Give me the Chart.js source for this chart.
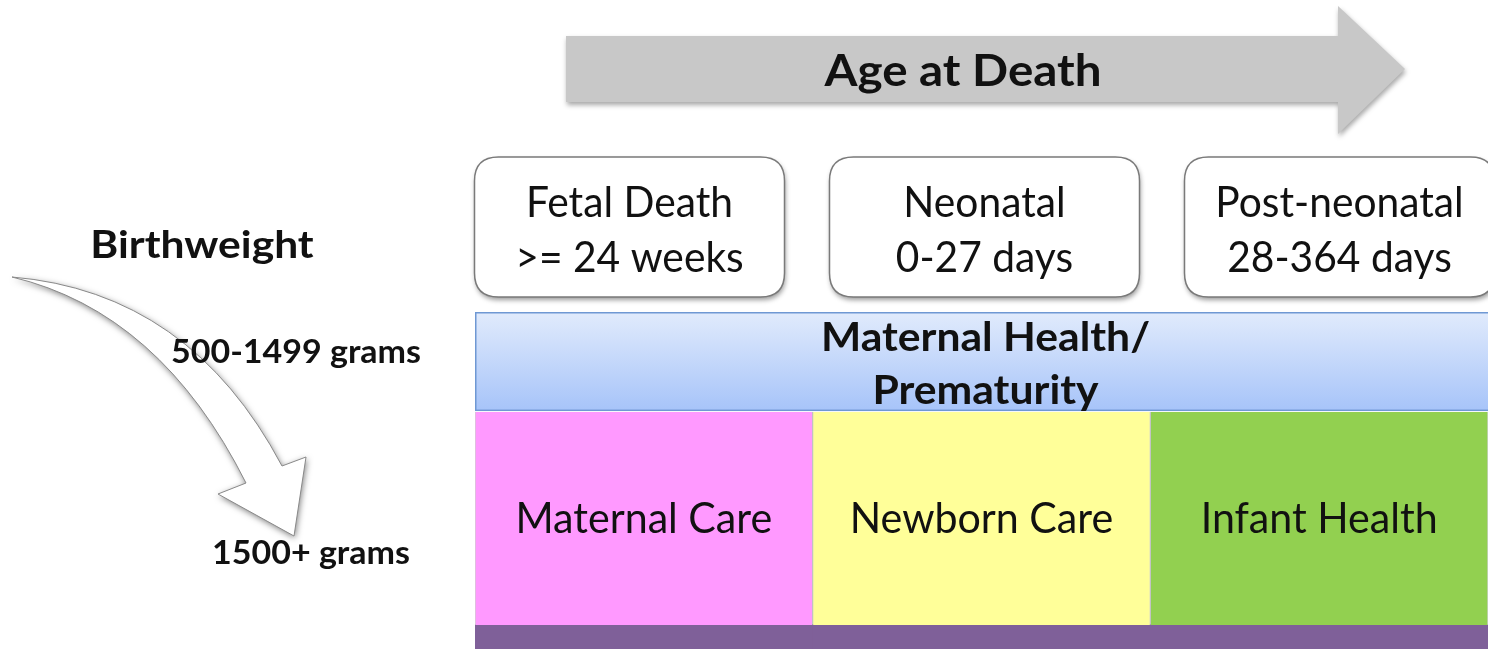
<!DOCTYPE html>
<html>
<head>
<meta charset="utf-8">
<script src="https://cdn.jsdelivr.net/npm/chart.js@4.4.1/dist/chart.umd.min.js"></script>
<style>
  html, body { margin: 0; padding: 0; background: #ffffff; }
  #wrap { width: 1488px; height: 649px; position: relative; }
</style>
</head>
<body>
<div id="wrap"><canvas id="c" width="1488" height="649"></canvas></div>
<script>
// ---------- data ----------
const stages = ['Fetal Death', 'Neonatal', 'Post-neonatal'];
const stageRanges = ['>= 24 weeks', '0-27 days', '28-364 days'];
const careLabels = ['Maternal Care', 'Newborn Care', 'Infant Health'];
const careColors = ['#ff99ff', '#ffff99', '#92d050'];
const bandLabel = ['Maternal Health/', 'Prematurity'];
const weightLabels = ['500-1499 grams', '1500+ grams'];
const weightLevels = [88.1, 28.5];
const stripRange = [0, 7.1];
const careRange = [7.1, 70.3];
const bandRange = [70.9, 100];
const axisTitle = 'Age at Death';
const weightTitle = 'Birthweight';

// ---------- helpers ----------
const SANS = 'Lato, "Open Sans", "Noto Sans", sans-serif';
function txt(ctx, s, x, y, font, sx, color) {
  ctx.save();
  ctx.font = font;
  ctx.fillStyle = color || '#111111';
  ctx.textAlign = 'center';
  ctx.textBaseline = 'middle';
  ctx.translate(x, y);
  ctx.scale(sx || 1, 1);
  ctx.fillText(s, 0, 0);
  ctx.restore();
}
function roundRect(ctx, x, y, w, h, r) {
  ctx.beginPath();
  ctx.moveTo(x + r, y);
  ctx.lineTo(x + w - r, y);
  ctx.quadraticCurveTo(x + w, y, x + w, y + r);
  ctx.lineTo(x + w, y + h - r);
  ctx.quadraticCurveTo(x + w, y + h, x + w - r, y + h);
  ctx.lineTo(x + r, y + h);
  ctx.quadraticCurveTo(x, y + h, x, y + h - r);
  ctx.lineTo(x, y + r);
  ctx.quadraticCurveTo(x, y, x + r, y);
  ctx.closePath();
}
function curvedArrow(ctx) {
  ctx.beginPath();
  ctx.moveTo(12, 277);
  ctx.quadraticCurveTo(190, 292, 282, 466);
  ctx.lineTo(306, 457);
  ctx.lineTo(294, 536);
  ctx.lineTo(218, 494);
  ctx.lineTo(246, 483);
  ctx.quadraticCurveTo(160, 312, 12, 277);
  ctx.closePath();
}

const decorPlugin = {
  id: 'decor',
  beforeDraw(chart) {
    const ctx = chart.ctx;
    const ca = chart.chartArea;
    const xs = chart.scales.x;
    ctx.save();
    ctx.fillStyle = '#ffffff';
    ctx.fillRect(0, 0, chart.width, chart.height);

    // --- top "Age at Death" arrow ---
    const sL = ca.left + 91, sR = ca.left + 863, tip = ca.left + 930;
    const sT = 36, sB = 102, hT = 6, hB = 134, mid = (sT + sB) / 2;
    ctx.save();
    ctx.shadowColor = 'rgba(0,0,0,0.35)';
    ctx.shadowBlur = 5;
    ctx.shadowOffsetX = 1;
    ctx.shadowOffsetY = 3;
    ctx.beginPath();
    ctx.moveTo(sL, sT); ctx.lineTo(sR, sT); ctx.lineTo(sR, hT);
    ctx.lineTo(tip, mid); ctx.lineTo(sR, hB); ctx.lineTo(sR, sB);
    ctx.lineTo(sL, sB); ctx.closePath();
    ctx.fillStyle = '#c8c8c8';
    ctx.fill();
    ctx.restore();
    txt(ctx, axisTitle, 963, mid + 3, 'bold 44px ' + SANS, 1.08, '#111111');

    // --- stage boxes ---
    const midX = xs.getPixelForValue(1) + 3;
    const bw = 310, bh = 140, bt = 157;
    stages.forEach((s, i) => {
      const cx = midX + (i - 1) * 355;
      ctx.save();
      ctx.shadowColor = 'rgba(0,0,0,0.4)';
      ctx.shadowBlur = 5;
      ctx.shadowOffsetX = 1;
      ctx.shadowOffsetY = 3;
      roundRect(ctx, cx - bw / 2, bt, bw, bh, 24);
      ctx.fillStyle = '#ffffff';
      ctx.fill();
      ctx.restore();
      ctx.save();
      roundRect(ctx, cx - bw / 2, bt, bw, bh, 24);
      ctx.strokeStyle = '#7a7a7a';
      ctx.lineWidth = 1.5;
      ctx.stroke();
      ctx.restore();
      txt(ctx, s, cx, bt + 46, '42px ' + SANS, 0.97, '#111111');
      txt(ctx, stageRanges[i], cx, bt + 101, '42px ' + SANS, 0.97, '#111111');
    });

    // --- left side: birthweight arrow ---
    txt(ctx, weightTitle, 202, 246, 'bold 38px ' + SANS, 1.12, '#111111');
    ctx.save();
    ctx.shadowColor = 'rgba(0,0,0,0.5)';
    ctx.shadowBlur = 6;
    ctx.shadowOffsetX = 1;
    ctx.shadowOffsetY = 2;
    curvedArrow(ctx);
    ctx.fillStyle = '#ffffff';
    ctx.fill();
    ctx.restore();
    ctx.save();
    ctx.strokeStyle = '#8a8a8a';
    ctx.lineWidth = 1;
    curvedArrow(ctx);
    ctx.stroke();
    ctx.restore();
    ctx.restore();
  },
  afterDatasetsDraw(chart) {
    const ctx = chart.ctx;
    const ca = chart.chartArea;
    const xs = chart.scales.x, ys = chart.scales.y;
    // band outline
    const bTop = ys.getPixelForValue(bandRange[1]);
    const bBot = ys.getPixelForValue(bandRange[0]);
    ctx.save();
    ctx.strokeStyle = '#6f98d3';
    ctx.lineWidth = 1.5;
    ctx.strokeRect(ca.left + 0.75, bTop + 0.75, ca.right - ca.left + 2, bBot - bTop - 0.5);
    ctx.restore();
    const bMid = (bTop + bBot) / 2;
    const cx = (ca.left + ca.right) / 2 + 4;
    txt(ctx, bandLabel[0], cx, bMid - 23, 'bold 41px ' + SANS, 1.04, '#111111');
    txt(ctx, bandLabel[1], cx, bMid + 30, 'bold 41px ' + SANS, 1.04, '#111111');
    // care labels
    const cMid = (ys.getPixelForValue(careRange[0]) + ys.getPixelForValue(careRange[1])) / 2;
    careLabels.forEach((s, i) => {
      txt(ctx, s, xs.getPixelForValue(i), cMid + 1, '42px ' + SANS, 0.98, '#111111');
    });
    // weight labels
    weightLabels.forEach((s, i) => {
      const x = i === 0 ? 296 : 311;
      txt(ctx, s, x, ys.getPixelForValue(weightLevels[i]), 'bold 33px ' + SANS, 1.03, '#111111');
    });
  }
};

function bandGradient(context) {
  const chart = context.chart;
  const ys = chart.scales.y;
  if (!ys || !chart.chartArea) return '#c0d4f8';
  const top = ys.getPixelForValue(bandRange[1]);
  const bot = ys.getPixelForValue(bandRange[0]);
  const g = chart.ctx.createLinearGradient(0, top, 0, bot);
  g.addColorStop(0, '#e1ebfc');
  g.addColorStop(1, '#a7c4f9');
  return g;
}

new Chart(document.getElementById('c'), {
  type: 'bar',
  data: {
    labels: stages,
    datasets: [
      {
        label: 'Maternal Health/Prematurity',
        data: stages.map(() => bandRange),
        backgroundColor: bandGradient,
        borderWidth: 0
      },
      {
        label: 'Care',
        data: stages.map(() => careRange),
        backgroundColor: careColors,
        borderColor: 'rgba(120,120,120,0.35)',
        borderWidth: { left: 1, right: 1, top: 0, bottom: 0 },
        borderSkipped: false
      },
      {
        label: 'Strip',
        data: stages.map(() => stripRange),
        backgroundColor: '#7f6099',
        borderWidth: 0
      }
    ]
  },
  options: {
    responsive: false,
    animation: false,
    events: [],
    layout: { padding: { left: 475, top: 312, right: 0, bottom: 0 } },
    datasets: { bar: { barPercentage: 1, categoryPercentage: 1, grouped: false } },
    plugins: { legend: { display: false }, tooltip: { enabled: false }, title: { display: false } },
    scales: {
      x: { display: false, stacked: true, grid: { display: false } },
      y: { display: false, min: 0, max: 100, grid: { display: false } }
    }
  },
  plugins: [decorPlugin]
});
</script>
</body>
</html>
